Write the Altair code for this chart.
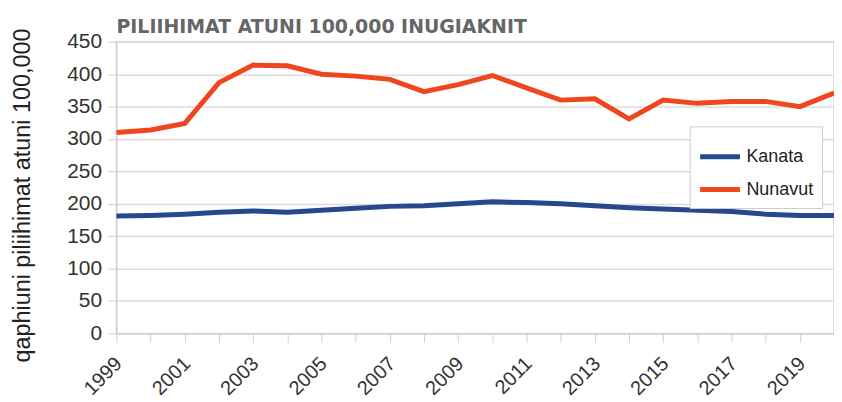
import altair as alt
import pandas as pd

years = list(range(1999, 2021))
kanata = [181, 182, 184, 187, 189, 187, 190, 193, 196, 197, 200, 203,
          202, 200, 197, 194, 192, 190, 188, 184, 182, 182]
nunavut = [310, 314, 324, 387, 414, 413, 400, 397, 392, 373, 384, 398,
           379, 360, 362, 331, 360, 355, 358, 358, 350, 371]
series = ["Kanata", "Nunavut"]
colors = ["#27478f", "#f0461f"]
y_ticks = list(range(0, 451, 50))

rows = []
for name, vals in zip(series, [kanata, nunavut]):
    for yr, v in zip(years, vals):
        rows.append({"year": yr, "value": v, "series": name})
df = pd.DataFrame(rows)

chart = alt.Chart(df).mark_line(strokeWidth=5, interpolate="linear").encode(
    x=alt.X("year:Q",
            scale=alt.Scale(domain=[1999, 2020], nice=False, zero=False),
            axis=alt.Axis(values=years, format="d",
                          labelExpr="datum.value % 2 == 1 ? datum.label : ''",
                          labelAngle=315, labelAlign="right", labelBaseline="middle",
                          labelFontSize=20, labelFont="Liberation Sans",
                          labelColor="#333333", labelPadding=18, labelOffset=2,
                          tickSize=9, tickColor="#cfcfcf", domainColor="#cfcfcf",
                          grid=False, title=None)),
    y=alt.Y("value:Q",
            scale=alt.Scale(domain=[0, 450], nice=False),
            axis=alt.Axis(values=y_ticks, labelFontSize=21, labelFont="Liberation Sans",
                          labelColor="#333333", labelPadding=6,
                          tickSize=9, tickColor="#cfcfcf", domainColor="#cfcfcf",
                          gridColor="#dcdcdc", gridWidth=1.5,
                          title="qaphiuni piliihimat atuni 100,000",
                          titleFont="Liberation Sans", titleFontSize=23.5,
                          titleFontWeight="normal", titleColor="#222222",
                          titlePadding=32, titleY=154)),
    color=alt.Color("series:N",
                    scale=alt.Scale(domain=series, range=colors),
                    legend=alt.Legend(title=None, orient="none", legendX=576, legendY=85,
                                      symbolType="stroke", symbolSize=1600,
                                      symbolStrokeWidth=5, labelFontSize=18,
                                      labelFont="Liberation Sans", labelColor="#222222",
                                      strokeColor="#cccccc", fillColor="white",
                                      padding=8, rowPadding=-8, labelOffset=4)),
).properties(
    width=721, height=293,
    autosize=alt.AutoSizeParams(type="none"),
    padding={"left": 109, "top": 33, "right": 0, "bottom": 70},
    title=alt.TitleParams("PILIIHIMAT ATUNI 100,000 INUGIAKNIT", anchor="start",
                          frame="group", font="DejaVu Sans", fontSize=19, fontWeight="bold",
                          color="#666666", offset=13, dy=22),
).configure_view(stroke="#d6d6d6", strokeWidth=1.5)

chart.save("out.html", embed_options={"renderer": "svg", "actions": False})
